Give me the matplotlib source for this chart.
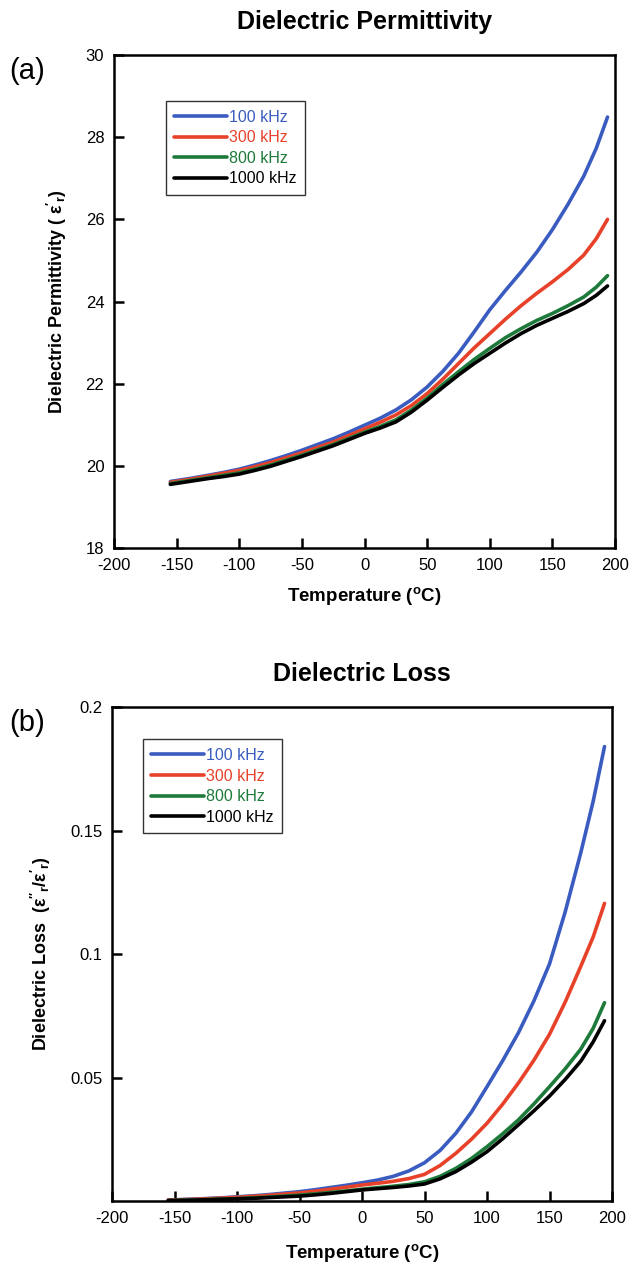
import matplotlib
matplotlib.use("Agg")
import matplotlib.pyplot as plt

plt.rcParams['font.family'] = ['Liberation Sans', 'DejaVu Sans']
plt.rcParams['mathtext.fontset'] = 'custom'
plt.rcParams['mathtext.rm'] = 'Liberation Sans'
plt.rcParams['mathtext.it'] = 'Liberation Sans:italic'
plt.rcParams['mathtext.bf'] = 'Liberation Sans:bold'
plt.rcParams['axes.unicode_minus'] = False

# ---- data ----
temperature = [-155, -140, -125, -112.5, -100, -87.5, -75, -62.5, -50, -37.5, -25, -12.5, 0,
               12.5, 25, 37.5, 50, 62.5, 75, 87.5, 100, 112.5, 125, 137.5, 150, 162.5, 175, 185, 194]
series_labels = ["100 kHz", "300 kHz", "800 kHz", "1000 kHz"]
series_colors = ["#3a5cc0", "#e8412a", "#1d7a3a", "#000000"]

perm_100 = [19.62, 19.69, 19.77, 19.84, 19.92, 20.02, 20.13, 20.25, 20.38, 20.52, 20.66, 20.82, 20.99,
            21.16, 21.36, 21.61, 21.92, 22.30, 22.74, 23.26, 23.80, 24.27, 24.72, 25.20, 25.75, 26.37, 27.05, 27.73, 28.49]
perm_300 = [19.60, 19.67, 19.75, 19.82, 19.89, 19.98, 20.08, 20.20, 20.32, 20.45, 20.58, 20.74, 20.90,
            21.06, 21.24, 21.47, 21.76, 22.11, 22.49, 22.87, 23.22, 23.57, 23.90, 24.20, 24.48, 24.78, 25.13, 25.53, 26.00]
perm_800 = [19.57, 19.64, 19.71, 19.77, 19.83, 19.92, 20.02, 20.14, 20.26, 20.39, 20.52, 20.67, 20.82,
            20.96, 21.12, 21.36, 21.65, 21.98, 22.29, 22.59, 22.86, 23.12, 23.34, 23.54, 23.71, 23.90, 24.11, 24.35, 24.63]
perm_1000 = [19.55, 19.62, 19.69, 19.74, 19.80, 19.89, 19.99, 20.11, 20.23, 20.36, 20.49, 20.64, 20.79,
             20.92, 21.07, 21.31, 21.60, 21.91, 22.21, 22.49, 22.74, 22.99, 23.22, 23.42, 23.59, 23.76, 23.95, 24.15, 24.38]

loss_100 = [0.0004, 0.0007, 0.0010, 0.0013, 0.0017, 0.0021, 0.0026, 0.0032, 0.0038, 0.0046, 0.0055, 0.0064, 0.0074,
            0.0085, 0.0100, 0.0122, 0.0155, 0.0205, 0.0274, 0.0360, 0.0463, 0.0568, 0.0680, 0.0810, 0.0960, 0.1170, 0.1410, 0.1620, 0.1840]
loss_300 = [0.0004, 0.0006, 0.0009, 0.0012, 0.0015, 0.0019, 0.0023, 0.0028, 0.0033, 0.0040, 0.0048, 0.0056, 0.0065,
            0.0072, 0.0080, 0.0091, 0.0108, 0.0144, 0.0193, 0.0250, 0.0315, 0.0392, 0.0477, 0.0570, 0.0675, 0.0805, 0.0950, 0.1070, 0.1205]
loss_800 = [0.0002, 0.0004, 0.0006, 0.0008, 0.0010, 0.0013, 0.0016, 0.0020, 0.0024, 0.0029, 0.0035, 0.0041, 0.0048,
            0.0054, 0.0060, 0.0067, 0.0078, 0.0100, 0.0132, 0.0172, 0.0220, 0.0272, 0.0328, 0.0393, 0.0463, 0.0535, 0.0615, 0.0700, 0.0803]
loss_1000 = [0.0002, 0.0003, 0.0005, 0.0007, 0.0009, 0.0011, 0.0014, 0.0017, 0.0020, 0.0025, 0.0031, 0.0038, 0.0045,
             0.0050, 0.0055, 0.0061, 0.0069, 0.0090, 0.0119, 0.0157, 0.0200, 0.0252, 0.0308, 0.0365, 0.0425, 0.0492, 0.0566, 0.0645, 0.0730]

x_ticks = [-200, -150, -100, -50, 0, 50, 100, 150, 200]
perm_ticks = [18, 20, 22, 24, 26, 28, 30]
loss_ticks = [0.05, 0.1, 0.15, 0.2]
loss_tick_labels = ["0.05", "0.1", "0.15", "0.2"]

fig = plt.figure(figsize=(6.31, 12.68), dpi=100)
ax1 = fig.add_axes([0.1807, 0.5678, 0.794, 0.3888])
ax2 = fig.add_axes([0.1775, 0.0528, 0.7924, 0.3896])


def style(ax):
    for s in ax.spines.values():
        s.set_linewidth(1.8)
    ax.tick_params(direction='in', length=7, width=1.8, labelsize=12,
                   top=False, right=False, pad=7)
    ax.set_xlim(-200, 200)
    ax.set_xticks(x_ticks)


def add_legend(ax, anchor):
    leg = ax.legend(loc='upper left', bbox_to_anchor=anchor, fontsize=11.5,
                    frameon=True, fancybox=False, edgecolor='black', handlelength=3.3,
                    handletextpad=0.1, labelspacing=0.35, borderpad=0.55,
                    borderaxespad=0)
    leg.get_frame().set_linewidth(1.0)
    for t, c in zip(leg.get_texts(), series_colors):
        t.set_color(c)
    return leg


perm = [perm_100, perm_300, perm_800, perm_1000]
for vals, lab, col in zip(perm, series_labels, series_colors):
    ax1.plot(temperature, vals, color=col, lw=2.6, label=lab, solid_capstyle='round')
style(ax1)
ax1.set_ylim(18, 30)
ax1.set_yticks(perm_ticks)
ax1.set_xlabel("Temperature ($\\mathregular{^o}$C)", fontsize=13.5, fontweight='bold', labelpad=9)
ax1.set_ylabel("Dielectric Permittivity ( $\\mathregular{\\epsilon'_r}$)", fontsize=13,
               fontweight='bold', labelpad=12)
ax1.set_title("Dielectric Permittivity", fontsize=18, fontweight='bold', pad=19)
add_legend(ax1, (0.103, 0.907))

loss = [loss_100, loss_300, loss_800, loss_1000]
for vals, lab, col in zip(loss, series_labels, series_colors):
    ax2.plot(temperature, vals, color=col, lw=2.6, label=lab, solid_capstyle='round')
style(ax2)
ax2.set_ylim(0, 0.2)
ax2.set_yticks(loss_ticks)
ax2.set_yticklabels(loss_tick_labels)
ax2.set_xlabel("Temperature ($\\mathregular{^o}$C)", fontsize=13.5, fontweight='bold', labelpad=12)
ax2.set_ylabel("Dielectric Loss  ($\\mathregular{\\epsilon''_r/\\epsilon'_r}$)", fontsize=13,
               fontweight='bold', labelpad=12)
ax2.set_title("Dielectric Loss", fontsize=18, fontweight='bold', pad=19)
add_legend(ax2, (0.061, 0.935))

fig.text(0.015, 0.944, "(a)", fontsize=21, ha='left', va='center')
fig.text(0.015, 0.430, "(b)", fontsize=21, ha='left', va='center')

fig.savefig("out.png", dpi=100)
